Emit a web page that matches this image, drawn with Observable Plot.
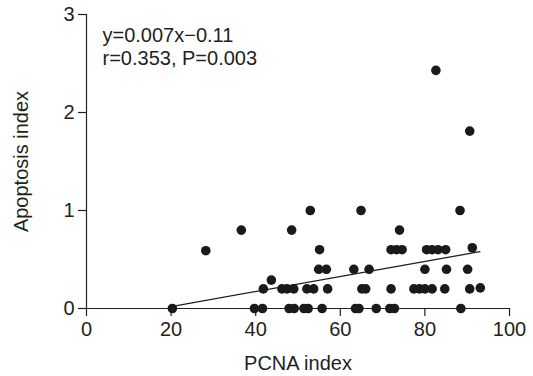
<!DOCTYPE html>
<html>
<head>
<meta charset="utf-8">
<script src="https://cdn.jsdelivr.net/npm/d3@7"></script>
<script src="https://cdn.jsdelivr.net/npm/@observablehq/plot@0.6"></script>
<style>
  html, body { margin: 0; padding: 0; background: #fff; }
  #chart { width: 533px; height: 376px; overflow: hidden; }
</style>
</head>
<body>
<div id="chart"></div>
<script>
// PCNA index (x) and apoptosis index (y)
const pcna = [20.3, 28.2, 36.6, 39.7, 41.6, 41.8, 43.7,
  52.9, 64.9, 48.5, 55.1, 54.9, 56.7, 63.2, 66.8,
  46.2, 47.4, 49.0, 52.1, 53.7, 57.0, 65.1, 66.0,
  47.9, 49.1, 51.4, 52.4, 55.7, 63.6, 64.4, 68.5,
  88.3, 74.0, 72.0, 73.3, 74.6, 80.4, 81.7, 83.1, 84.9, 91.2,
  80.0, 85.1, 90.1,
  72.0, 77.4, 78.7, 80.0, 81.7, 84.7, 90.6, 93.1,
  71.7, 72.8, 88.5,
  82.6, 90.6];
const apoptosis = [0, 0.59, 0.8, 0, 0, 0.2, 0.29,
  1.0, 1.0, 0.8, 0.6, 0.4, 0.4, 0.4, 0.4,
  0.2, 0.2, 0.2, 0.2, 0.2, 0.2, 0.2, 0.2,
  0, 0, 0, 0, 0, 0, 0, 0,
  1.0, 0.8, 0.6, 0.6, 0.6, 0.6, 0.6, 0.6, 0.6, 0.62,
  0.4, 0.4, 0.4,
  0.2, 0.2, 0.2, 0.2, 0.2, 0.2, 0.2, 0.21,
  0, 0, 0,
  2.43, 1.81];
// regression line end points
const fitX = [20, 93];
const fitY = [0.02, 0.58];
const xTicks = [0, 20, 40, 60, 80, 100];
const yTicks = [0, 1, 2, 3];
const annotation = ["y=0.007x\u22120.11", "r=0.353, P=0.003"];
const xLabel = "PCNA index";
const yLabel = "Apoptosis index";

const points = pcna.map((x, i) => ({x, y: apoptosis[i]}));
const fit = fitX.map((x, i) => ({x, y: fitY[i]}));
const ink = "#231f20";

const chart = Plot.plot({
  width: 533,
  height: 376,
  marginLeft: 86,
  marginRight: 24,
  marginTop: 14,
  marginBottom: 68,
  style: {fontFamily: "'Liberation Sans', Arial, Helvetica, sans-serif", fontSize: "20px", color: ink, background: "#fff"},
  x: {domain: [0, 100]},
  y: {domain: [0, 3]},
  marks: [
    Plot.axisX({ticks: xTicks, tickFormat: "d", tickSize: 8, tickPadding: 5, label: null, stroke: ink, fill: ink, strokeWidth: 1.2, fontSize: 20}),
    Plot.axisY({ticks: yTicks, tickFormat: "d", tickSize: 8, tickPadding: 4, label: null, stroke: ink, fill: ink, strokeWidth: 1.2, fontSize: 20}),
    Plot.ruleY([0], {stroke: ink, strokeWidth: 1.2}),
    Plot.ruleX([0], {stroke: ink, strokeWidth: 1.2}),
    Plot.line(fit, {x: "x", y: "y", stroke: ink, strokeWidth: 1.3}),
    Plot.dot(points, {x: "x", y: "y", r: 4.8, fill: "#1a1a1a", stroke: "none"}),
    Plot.text([annotation.join("\n")], {frameAnchor: "top-left", dx: 16, dy: 11, textAnchor: "start", lineAnchor: "top", lineHeight: 1.15, fontSize: 20, fill: ink}),
    Plot.text([xLabel], {frameAnchor: "bottom", dy: 47, lineAnchor: "top", fontSize: 20, fill: ink}),
    Plot.text([yLabel], {frameAnchor: "left", rotate: -90, dx: -65, textAnchor: "middle", lineAnchor: "middle", fontSize: 20, fill: ink})
  ]
});
document.getElementById("chart").appendChild(chart);
</script>
</body>
</html>
